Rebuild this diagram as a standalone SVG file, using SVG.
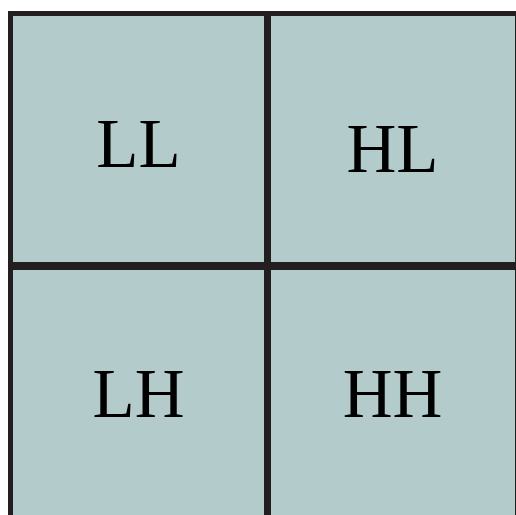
<svg xmlns="http://www.w3.org/2000/svg" width="516" height="515" viewBox="0 0 516 515">
<style>
.cell{fill:#b4cbcb;stroke:none}
.line{stroke:#231f20;fill:none}
.lbl{font-family:"Liberation Serif","Times New Roman",serif;font-size:69px;fill:#000;text-anchor:middle}
</style>
<rect width="516" height="515" fill="#ffffff"/>
<g id="LL"><rect class="cell" x="10" y="13" width="257.5" height="253"/><text class="lbl" x="138.5" y="167">LL</text></g>
<g id="HL"><rect class="cell" x="267.5" y="13" width="250" height="253"/><text class="lbl" x="392.5" y="172">HL</text></g>
<g id="LH"><rect class="cell" x="10" y="266" width="257.5" height="249"/><text class="lbl" x="138.5" y="417">LH</text></g>
<g id="HH"><rect class="cell" x="267.5" y="266" width="250" height="249"/><text class="lbl" x="392.5" y="417">HH</text></g>
<g id="connectors">
<line class="line" x1="10.5" y1="11" x2="10.5" y2="515" stroke-width="5"/>
<line class="line" x1="8" y1="13.5" x2="516" y2="13.5" stroke-width="5"/>
<line class="line" x1="517.5" y1="11" x2="517.5" y2="515" stroke-width="5"/>
<line class="line" x1="267.5" y1="11" x2="267.5" y2="515" stroke-width="7"/>
<line class="line" x1="8" y1="266" x2="516" y2="266" stroke-width="8"/>
</g>
</svg>
